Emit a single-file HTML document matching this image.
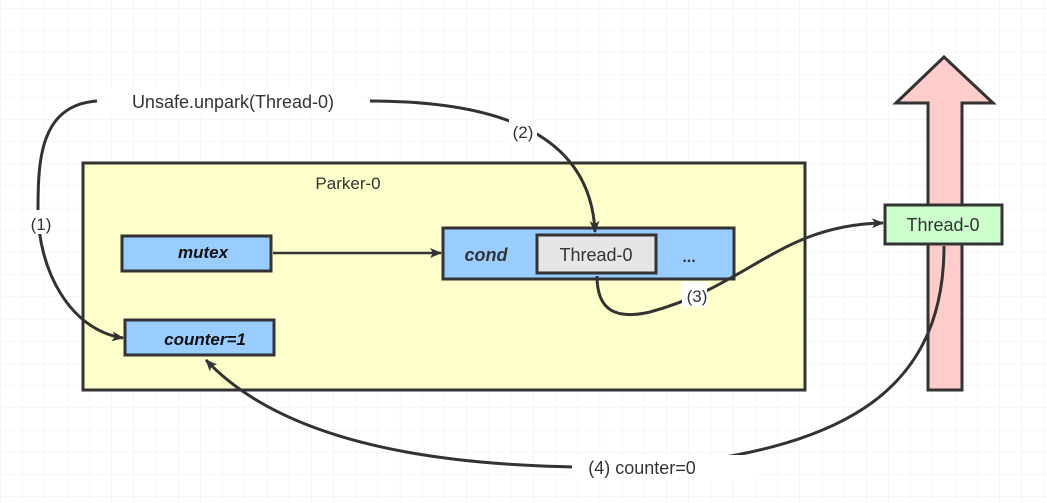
<!DOCTYPE html>
<html><head><style>
body{margin:0;background:#fff;}
svg{display:block;font-family:"Liberation Sans",sans-serif;}
</style></head><body>
<svg width="1047" height="503" viewBox="0 0 1047 503" xmlns="http://www.w3.org/2000/svg">
<defs>
<pattern id="g" x="0.3" y="8" width="22.2" height="22.2" patternUnits="userSpaceOnUse">
<path d="M0 0H22.2M0 0V22.2" stroke="#ececec" stroke-width="1" fill="none"/>
</pattern>
<marker id="a" markerWidth="12" markerHeight="10" refX="11" refY="5" orient="auto" markerUnits="userSpaceOnUse">
<path d="M0 0L12 5L0 10L3 5Z" fill="#333"/>
</marker>
</defs>
<rect width="1047" height="503" fill="url(#g)"/>
<!-- big arrow -->
<path d="M928 390V103H896L944 57L993 103H962V390Z" fill="#ffcccc" stroke="#333" stroke-width="3"/>
<!-- parker -->
<rect x="83" y="163" width="722" height="227" fill="#ffffcc" stroke="#333" stroke-width="3"/>
<text x="348" y="189" font-size="17" fill="#333" text-anchor="middle">Parker-0</text>
<rect x="122" y="236" width="149" height="35" fill="#99ccff" stroke="#333" stroke-width="3"/>
<text x="203" y="258" font-size="17" font-weight="bold" font-style="italic" fill="#111" text-anchor="middle">mutex</text>
<rect x="125" y="320" width="149" height="35" fill="#99ccff" stroke="#333" stroke-width="3"/>
<text x="205" y="345" font-size="17" font-weight="bold" font-style="italic" fill="#111" text-anchor="middle">counter=1</text>
<rect x="443" y="228" width="291" height="51" fill="#99ccff" stroke="#333" stroke-width="3"/>
<text x="486" y="261" font-size="18" font-weight="bold" font-style="italic" fill="#333" text-anchor="middle">cond</text>
<rect x="522" y="235" width="119" height="38" fill="#e6e6e6" stroke="#333" stroke-width="3" transform="translate(15 0)"/>
<text x="596" y="261" font-size="18" fill="#333" text-anchor="middle">Thread-0</text>
<text x="689" y="262" font-size="16" font-weight="bold" fill="#333" text-anchor="middle">...</text>
<rect x="885" y="205" width="117" height="39" fill="#ccffcc" stroke="#333" stroke-width="3"/>
<text x="943" y="231" font-size="18" fill="#333" text-anchor="middle">Thread-0</text>
<!-- connectors -->
<path d="M273 253H441" stroke="#333" stroke-width="2.5" fill="none" marker-end="url(#a)"/>
<path d="M97 101C40 105 38 160 38 210C38 270 70 330 123 338" stroke="#333" stroke-width="3" fill="none" marker-end="url(#a)"/>
<path d="M370 101C470 101 590 120 595 232" stroke="#333" stroke-width="3" fill="none" marker-end="url(#a)"/>
<path d="M597 276C597 310 615 320 650 312C750 285 780 225 883 223" stroke="#333" stroke-width="3" fill="none" marker-end="url(#a)"/>
<path d="M944 246C944 400 830 450 650 467C500 470 300 460 206 360" stroke="#333" stroke-width="3" fill="none" marker-end="url(#a)"/>
<!-- labels -->
<rect x="108" y="88" width="255" height="26" fill="#fff"/>
<text x="233" y="108" font-size="18" fill="#333" text-anchor="middle">Unsafe.unpark(Thread-0)</text>
<rect x="27" y="210" width="27" height="24" fill="#fff"/>
<text x="41" y="230" font-size="17" fill="#333" text-anchor="middle">(1)</text>
<rect x="509" y="119" width="28" height="24" fill="#fff"/>
<text x="523" y="138" font-size="17" fill="#333" text-anchor="middle">(2)</text>
<rect x="652" y="282" width="25" height="25" fill="#fff" transform="translate(30 0)"/>
<text x="697" y="302" font-size="17" fill="#333" text-anchor="middle">(3)</text>
<rect x="556" y="455" width="186" height="26" fill="#fff" transform="translate(16 0)"/>
<text x="642" y="474" font-size="18" fill="#333" text-anchor="middle">(4)  counter=0</text>
</svg>
</body></html>
